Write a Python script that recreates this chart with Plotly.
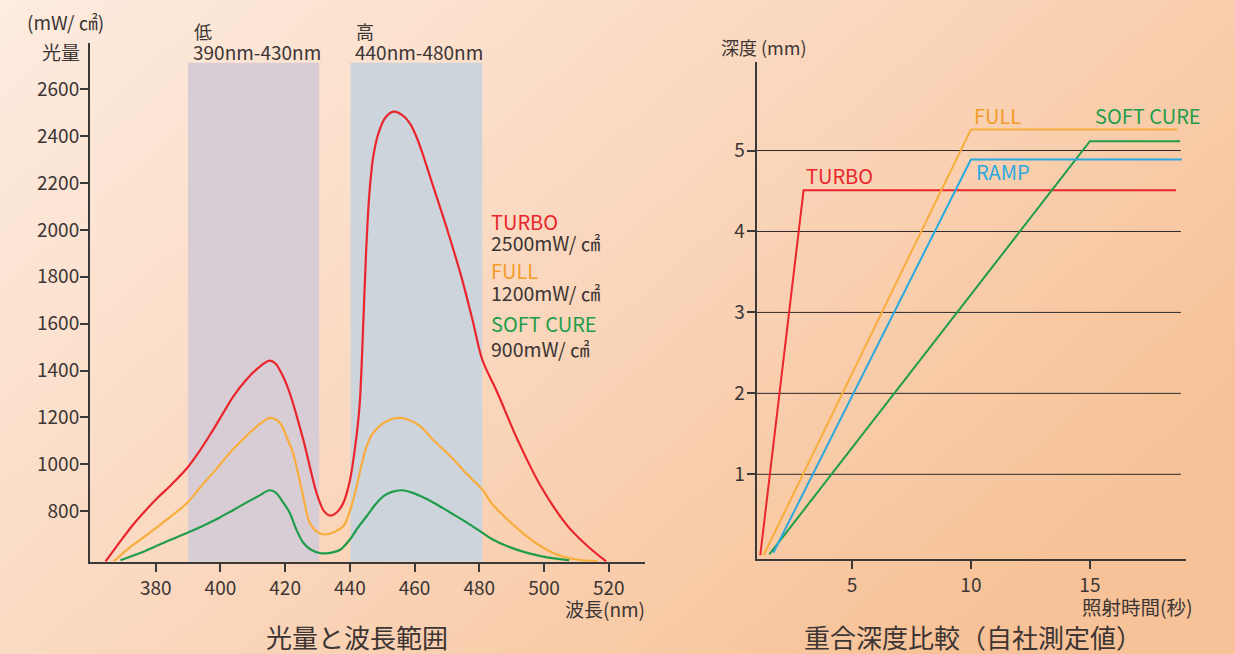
import base64
import plotly.graph_objects as go

W, H = 1235, 654
FONT = "Noto Sans CJK JP"
DARK = "#3c3534"
AXC = "#3b3838"

# ---------- left chart data: light output vs wavelength ----------
turbo_nm = [364.5, 369, 373, 377, 381, 385, 389.8, 393, 397, 400.7, 404, 408, 412, 415.2, 417, 419, 421.4, 425.6,
            429.7, 432, 434, 436, 438, 440, 441.5, 443, 444, 445, 446, 447.3, 449, 451, 453.5,
            456.5, 458.7, 460.5, 462.5, 464.9, 470.1, 474.7, 478, 480.9, 485.6, 491.8, 499, 507.3, 513.5, 519.2]
turbo_mw = [585, 670, 742, 805, 862, 915, 985, 1045, 1130, 1215, 1290, 1361, 1415, 1442, 1430, 1385, 1305, 1105,
            878, 800, 781, 795, 836, 930, 1060, 1250, 1550, 1900, 2150, 2320, 2420, 2480, 2505,
            2487, 2452, 2400, 2325, 2222, 2001, 1788, 1610, 1447, 1305, 1105, 906, 736, 650, 585]

full_nm = [367, 372, 377.9, 384, 389.8, 394, 398.6, 403, 408, 412, 415.2, 417, 418.8, 420.5,
           422.4, 425, 427.6, 430, 432.3, 435, 438, 440, 442, 443.5, 445.2, 447, 450, 453,
           455.6, 458, 461.8, 466, 471.1, 476, 480.9, 484, 488.7, 494, 499, 503, 507.3, 512, 516.6]
full_mw = [585, 645, 705, 770, 836, 905, 978, 1050, 1120, 1170, 1198, 1192, 1169, 1115,
           1049, 900, 750, 710, 700, 710, 736, 800, 900, 990, 1077, 1130, 1172, 1193,
           1198, 1190, 1162, 1100, 1034, 960, 892, 830, 764, 700, 650, 620, 601, 590, 585]

soft_nm = [369.1, 375, 380, 385, 389.8, 395, 399.7, 404, 408, 412, 415.2, 417, 419, 421.4,
           423.5, 425.6, 428, 431, 434, 437, 440, 442.5, 445.2, 448, 450.4, 453, 456, 459,
           461.8, 465.9, 471.1, 476.3, 480.9, 484, 488.7, 494, 499, 503, 507.8]
soft_mw = [590, 620, 650, 680, 708, 740, 772, 805, 836, 866, 889, 880, 845, 793,
           720, 665, 635, 620, 622, 635, 679, 730, 778, 830, 864, 882, 889, 880,
           864, 836, 793, 750, 708, 680, 650, 625, 608, 598, 590]

band_low = [390.0, 430.5]
band_high = [440.2, 480.9]
band_top = 2714
wl_ticks = [380, 400, 420, 440, 460, 480, 500, 520]
mw_ticks = [800, 1000, 1200, 1400, 1600, 1800, 2000, 2200, 2400, 2600]

# ---------- right chart data: cure depth vs time ----------
turbo_t = [1.15, 2.97, 18.62]
turbo_d = [0.0, 4.51, 4.51]
full_t = [1.29, 10.0, 18.67]
full_d = [0.0, 5.26, 5.26]
ramp_t = [1.70, 10.0, 18.86]
ramp_d = [0.03, 4.89, 4.89]
soft_t = [1.53, 15.0, 18.79]
soft_d = [0.01, 5.115, 5.115]
depth_ticks = [1, 2, 3, 4, 5]
time_ticks = [5, 10, 15]
grid_end = 18.82

RED = "#ea252c"
ORANGE_L = "#f8ad3c"
ORANGE_T = "#f39b2b"
GREEN = "#1f9d4a"
BLUE = "#2aa8e0"


def px(x):
    return x / W


def py(y):
    return 1 - y / H


fig = go.Figure()

for xs, ys, c in [(turbo_nm, turbo_mw, RED), (full_nm, full_mw, ORANGE_L), (soft_nm, soft_mw, GREEN)]:
    fig.add_trace(go.Scatter(x=xs, y=ys, mode="lines", line=dict(color=c, width=2.2, shape="spline", smoothing=0.9),
                             xaxis="x", yaxis="y", showlegend=False, hoverinfo="skip"))

for xs, ys, c in [(turbo_t, turbo_d, RED), (soft_t, soft_d, GREEN), (full_t, full_d, ORANGE_L), (ramp_t, ramp_d, BLUE)]:
    fig.add_trace(go.Scatter(x=xs, y=ys, mode="lines", line=dict(color=c, width=2),
                             xaxis="x2", yaxis="y2", showlegend=False, hoverinfo="skip"))

shapes = []
for (a, b), col in [(band_low, "#d8ccd5"), (band_high, "#cdd4dc")]:
    shapes.append(dict(type="rect", xref="x", yref="y", x0=a, x1=b, y0=584, y1=band_top,
                       fillcolor=col, line=dict(width=0), layer="below"))
for d in depth_ticks:
    shapes.append(dict(type="line", xref="x2", yref="y2", x0=1, x1=grid_end, y0=d, y1=d,
                       line=dict(color="#2e2a2a", width=1), layer="below"))

tickfont = dict(family=FONT, size=19, color=DARK)
axcommon = dict(showline=True, linecolor=AXC, linewidth=2, ticks="outside", ticklen=8, tickwidth=2,
                tickcolor=AXC, showgrid=False, zeroline=False, tickfont=tickfont, automargin=False)

fig.update_layout(
    width=W, height=H,
    margin=dict(l=0, r=0, t=0, b=0),
    paper_bgcolor="rgba(0,0,0,0)",
    plot_bgcolor="rgba(0,0,0,0)",
    xaxis=dict(domain=[px(90), px(645)], range=[359.7, 531.2], tickvals=wl_ticks, anchor="y", **axcommon),
    yaxis=dict(domain=[py(561.7), py(43)], range=[584, 2798], tickvals=mw_ticks, anchor="x",
               ticklabelstandoff=-3, **axcommon),
    xaxis2=dict(domain=[px(756.7), px(1186.3)], range=[1, 19.05], tickvals=time_ticks, anchor="y2", **axcommon),
    yaxis2=dict(domain=[py(559.3), py(62.3)], range=[-0.05, 6.09], tickvals=depth_ticks, anchor="x2",
                ticklabelstandoff=-2, **axcommon),
    shapes=shapes,
)

svg = ('<svg xmlns="http://www.w3.org/2000/svg" width="1235" height="654" preserveAspectRatio="none">'
       '<defs><linearGradient id="g" x1="0" y1="0" x2="1" y2="0.6">'
       '<stop offset="0" stop-color="#fdece0"/><stop offset="0.5" stop-color="#fad8bf"/>'
       '<stop offset="1" stop-color="#f7c297"/></linearGradient></defs>'
       '<rect width="1235" height="654" fill="url(#g)"/></svg>')
src = "data:image/svg+xml;base64," + base64.b64encode(svg.encode()).decode()
fig.add_layout_image(dict(source=src, xref="paper", yref="paper", x=0, y=1, sizex=1, sizey=1,
                          xanchor="left", yanchor="top", sizing="stretch", layer="below"))


def txt(x, y, s, size=19, color=DARK, xanchor="left"):
    fig.add_annotation(x=px(x), y=py(y), xref="paper", yref="paper", text=s, showarrow=False,
                       xanchor=xanchor, yanchor="middle", font=dict(family=FONT, size=size, color=color))


# left chart labels
txt(25, 22, "(mW/ ㎠)", 19)
txt(40, 51.5, "光量", 19)
txt(192, 31, "低", 18)
txt(191, 51.5, "390nm-430nm", 19)
txt(354, 31, "高", 18)
txt(353, 51.5, "440nm-480nm", 19)
txt(489, 222, "TURBO", 20, RED)
txt(489, 242.5, "2500mW/ ㎠", 19.5)
txt(489, 271, "FULL", 20, ORANGE_T)
txt(489, 292, "1200mW/ ㎠", 19.5)
txt(489, 323, "SOFT CURE", 20, GREEN)
txt(489, 348, "900mW/ ㎠", 19.5)
txt(647, 608, "波長(nm)", 19, xanchor="right")
txt(357, 636, "光量と波長範囲", 26, xanchor="center")

# right chart labels
txt(719, 47, "深度 (mm)", 18)
txt(804, 176, "TURBO", 20, RED)
txt(972, 116, "FULL", 20, ORANGE_T)
txt(974, 171.5, "RAMP", 20, BLUE)
txt(1093, 116, "SOFT CURE", 20, GREEN)
txt(1195, 606, "照射時間(秒)", 19.5, xanchor="right")
txt(973, 636, "重合深度比較（自社測定値）", 26, xanchor="center")

fig.write_html("out.html", config={"displayModeBar": False},
               post_script="document.body.style.margin='0px';document.body.style.padding='0px';")
